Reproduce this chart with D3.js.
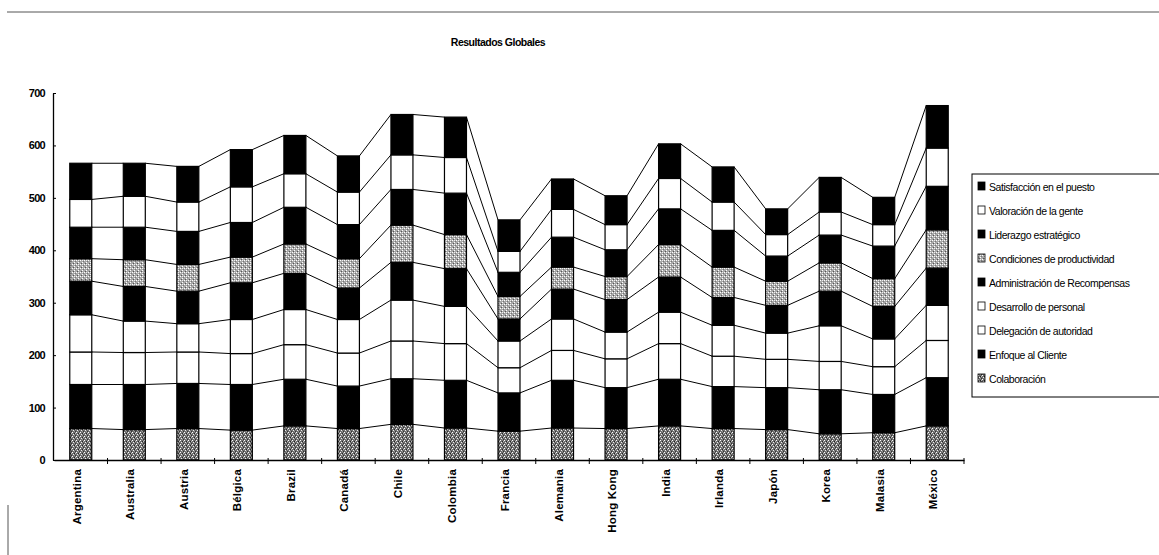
<!DOCTYPE html>
<html>
<head>
<meta charset="utf-8">
<script src="https://cdn.jsdelivr.net/npm/d3@7"></script>
<style>
  body { margin: 0; background: #fff; }
  svg { display: block; font-family: "Liberation Sans", Arial, sans-serif; }
</style>
</head>
<body>
<svg id="chart" width="1159" height="555"></svg>
<script>
// countries along the x axis
const countries = ["Argentina", "Australia", "Austria", "Bélgica", "Brazil", "Canadá", "Chile",
  "Colombia", "Francia", "Alemania", "Hong Kong", "India", "Irlanda", "Japón", "Korea", "Malasia", "México"];

// series, bottom of the stack first
const seriesNames = ["Colaboración", "Enfoque al Cliente", "Delegación de autoridad", "Desarrollo de personal",
  "Administración de Recompensas", "Condiciones de productividad", "Liderazgo estratégico",
  "Valoración de la gente", "Satisfacción en el puesto"];

const colaboracion  = [60, 58, 60, 57, 65, 60, 68, 61, 55, 61, 60, 65, 60, 58, 50, 52, 65];
const enfoque       = [84, 86, 86, 87, 89, 81, 87, 91, 73, 91, 78, 89, 80, 80, 84, 73, 92];
const delegacion    = [62, 61, 60, 59, 66, 63, 72, 70, 48, 57, 55, 68, 58, 54, 54, 53, 71];
const desarrollo    = [71, 60, 54, 65, 67, 64, 78, 71, 51, 60, 51, 60, 59, 50, 68, 53, 67];
const recompensas   = [64, 66, 62, 70, 69, 60, 72, 72, 42, 57, 62, 67, 53, 53, 66, 62, 71];
const condiciones   = [43, 51, 51, 49, 56, 56, 71, 65, 43, 42, 44, 62, 58, 46, 54, 53, 73];
const liderazgo     = [60, 62, 63, 66, 70, 65, 68, 79, 46, 57, 51, 68, 70, 48, 53, 62, 83];
const valoracion    = [53, 59, 56, 68, 64, 62, 66, 68, 40, 53, 48, 58, 54, 41, 44, 41, 73];
const satisfaccion  = [69, 63, 68, 71, 73, 69, 77, 77, 60, 58, 55, 66, 67, 49, 66, 52, 81];

const yTicks = [0, 100, 200, 300, 400, 500, 600, 700];

const seriesValues = [colaboracion, enfoque, delegacion, desarrollo, recompensas,
  condiciones, liderazgo, valoracion, satisfaccion];

const rows = countries.map((c, i) => {
  const r = { country: c };
  seriesNames.forEach((s, k) => { r[s] = seriesValues[k][i]; });
  return r;
});

const svg = d3.select("#chart");

// fills: black, white and two stipple patterns
const defs = svg.append("defs");
const darkDots = defs.append("pattern").attr("id", "dark").attr("width", 4).attr("height", 4)
  .attr("patternUnits", "userSpaceOnUse");
darkDots.append("rect").attr("width", 4).attr("height", 4).attr("fill", "#6e6e6e");
[[0, 0, "#fff"], [2, 1, "#222"], [1, 2, "#eee"], [3, 3, "#333"], [3, 1, "#bbb"], [2, 3, "#999"]].forEach(([x, y, c]) =>
  darkDots.append("rect").attr("x", x).attr("y", y).attr("width", 1).attr("height", 1).attr("fill", c));

const lightDots = defs.append("pattern").attr("id", "light").attr("width", 4).attr("height", 4)
  .attr("patternUnits", "userSpaceOnUse");
lightDots.append("rect").attr("width", 4).attr("height", 4).attr("fill", "#a8a8a8");
[[0, 0, "#fff"], [2, 2, "#fff"], [1, 3, "#555"], [3, 1, "#777"], [2, 0, "#eee"]].forEach(([x, y, c]) =>
  lightDots.append("rect").attr("x", x).attr("y", y).attr("width", 1).attr("height", 1).attr("fill", c));

const fills = ["url(#dark)", "#000", "#fff", "#fff", "#000", "url(#light)", "#000", "#fff", "#000"];

const x = d3.scaleBand().domain(countries).range([54, 964]).padding(0);
const y = d3.scaleLinear().domain([0, 700]).range([460, 93]);
const barW = 22;
const barX = (c) => x(c) + x.bandwidth() / 2 - barW / 2;

// scan border line at the top
svg.append("line").attr("x1", 7).attr("x2", 1159).attr("y1", 12).attr("y2", 12)
  .attr("stroke", "#555").attr("stroke-width", 1);

svg.append("text").attr("x", 498).attr("y", 46).attr("text-anchor", "middle")
  .attr("font-size", 10.5).attr("font-weight", "bold").attr("letter-spacing", -0.5)
  .text("Resultados Globales");

const stack = d3.stack().keys(seriesNames)(rows);

// series lines between neighbouring bars
stack.forEach((layer) => {
  const segs = d3.pairs(layer);
  svg.append("g").selectAll("line").data(segs).join("line")
    .attr("x1", ([a]) => barX(a.data.country) + barW)
    .attr("y1", ([a]) => y(a[1]))
    .attr("x2", ([, b]) => barX(b.data.country))
    .attr("y2", ([, b]) => y(b[1]))
    .attr("stroke", "#000").attr("stroke-width", 1);
});

// stacked bars
svg.append("g").selectAll("g").data(stack).join("g")
  .attr("fill", (d, i) => fills[i])
  .selectAll("rect").data((d) => d).join("rect")
  .attr("x", (d) => barX(d.data.country))
  .attr("y", (d) => y(d[1]))
  .attr("width", barW)
  .attr("height", (d) => y(d[0]) - y(d[1]))
  .attr("stroke", "#000").attr("stroke-width", 1.2);

// y axis
const yAxis = svg.append("g").attr("transform", "translate(53,0)")
  .call(d3.axisLeft(y).tickValues(yTicks).tickSize(4).tickSizeOuter(0));
yAxis.select(".domain").attr("stroke", "#000").attr("stroke-width", 1.3);
yAxis.selectAll(".tick line").attr("x2", 3);
yAxis.selectAll("text").attr("font-size", 11).attr("font-weight", "bold")
  .attr("letter-spacing", -0.7).attr("font-family", "inherit").attr("x", -8);

// x axis
const xAxis = svg.append("g").attr("transform", "translate(0,460)")
  .call(d3.axisBottom(x).tickSize(0).tickSizeOuter(0));
xAxis.select(".domain").attr("stroke", "#000").attr("stroke-width", 1.3);
xAxis.selectAll("text")
  .attr("font-size", 11.5).attr("font-weight", "bold").attr("font-family", "inherit")
  .attr("letter-spacing", 0.2)
  .attr("transform", "rotate(-90)").attr("text-anchor", "end")
  .attr("x", -9).attr("y", -4).attr("dy", "0.35em");
// ticks between categories
svg.append("g").selectAll("line").data(countries.slice(1).concat(["end"])).join("line")
  .attr("x1", (c) => (c === "end" ? 964 : x(c)))
  .attr("x2", (c) => (c === "end" ? 964 : x(c)))
  .attr("y1", 458).attr("y2", 464).attr("stroke", "#000");

// legend
const legend = svg.append("g");
legend.append("rect").attr("x", 972).attr("y", 174).attr("width", 200).attr("height", 223)
  .attr("fill", "none").attr("stroke", "#000").attr("stroke-width", 1);
const items = seriesNames.map((s, i) => ({ s, i })).reverse();
const li = legend.selectAll("g.item").data(items).join("g").attr("class", "item")
  .attr("transform", (d, k) => `translate(978,${187 + k * 24})`);
li.append("rect").attr("x", 0).attr("y", -5).attr("width", 7).attr("height", 8)
  .attr("fill", (d) => fills[d.i]).attr("stroke", "#000").attr("stroke-width", 0.8);
li.append("text").attr("x", 11).attr("y", 3.5).attr("font-size", 10.5).attr("letter-spacing", -0.45)
  .text((d) => d.s);

// small scan mark on the left
svg.append("line").attr("x1", 8).attr("x2", 8).attr("y1", 505).attr("y2", 555)
  .attr("stroke", "#555").attr("stroke-width", 1);
</script>
</body>
</html>
